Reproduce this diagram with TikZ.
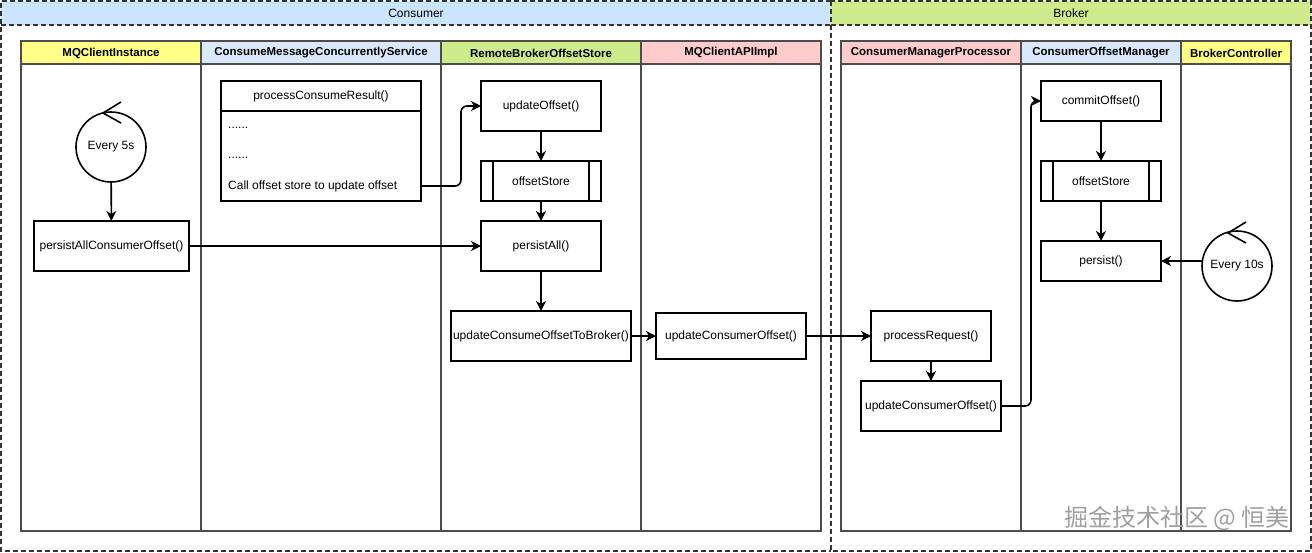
\documentclass[tikz,border=0pt]{standalone}
\usepackage{fontspec}
\setmainfont{Liberation Sans}
\newfontfamily\cjk{Noto Sans CJK SC}
\usetikzlibrary{arrows.meta,calc}
\definecolor{hdrblue}{HTML}{DAE8FC}
\definecolor{bandblue}{HTML}{CCE5FF}
\definecolor{hdrgreen}{HTML}{CDEB8B}
\definecolor{hdryellow}{HTML}{FFFF88}
\definecolor{hdrpink}{HTML}{FFCCCC}
\definecolor{lanegray}{HTML}{4D4D4D}
\definecolor{dashgray}{HTML}{333333}
\tikzset{
  container/.style={draw=dashgray, line width=1.3pt, dash pattern=on 5pt off 3pt},
  lane/.style={draw=lanegray, line width=1.8pt},
  box/.style={draw=black, line width=1.6pt, fill=white, inner sep=0pt, outer sep=0pt, font=\fontsize{12}{14}\selectfont, align=center},
  cyc/.style={draw=black, line width=1.6pt, circle, inner sep=0pt, outer sep=0pt, minimum size=70pt, font=\fontsize{12}{14}\selectfont},
  lbl/.style={font=\fontsize{12}{14}\selectfont, inner sep=0pt},
  hdr/.style={font=\bfseries\fontsize{11.5}{14}\selectfont, inner sep=0pt},
  flow/.style={draw=black, line width=1.6pt, -{Stealth[length=10pt,width=10pt,inset=3pt]}},
  chev/.style={draw=black, line width=1.6pt}
}
\begin{document}
\begin{tikzpicture}[x=1pt,y=-1pt]
\useasboundingbox (0,0) rectangle (1312,552);
% containers
\fill[bandblue] (1,1) rectangle (831,25);
\fill[hdrgreen] (831,1) rectangle (1311,25);
\draw[container] (831,1) -- (1,1) -- (1,551) -- (831,551);
\draw[container] (1,25) -- (831,25);
\draw[container] (831,1) rectangle (1311,551);
\draw[container] (831,25) -- (1311,25);
\node[lbl] (consumer) at (416,13) {Consumer};
\node[lbl] (broker) at (1071,13) {Broker};
% consumer lanes
\filldraw[lane, fill=hdryellow] (21,41) rectangle (201,64);
\filldraw[lane, fill=hdrblue] (201,41) rectangle (441,64);
\filldraw[lane, fill=hdrgreen] (441,41) rectangle (641,64);
\filldraw[lane, fill=hdrpink] (641,41) rectangle (821,64);
\draw[lane] (21,64) rectangle (201,531);
\draw[lane] (201,64) rectangle (441,531);
\draw[lane] (441,64) rectangle (641,531);
\draw[lane] (641,64) rectangle (821,531);
\node[hdr] (h1) at (111,53) {MQClientInstance};
\node[hdr] (h2) at (321,53) {ConsumeMessageConcurrentlyService};
\node[hdr] (h3) at (541,53) {RemoteBrokerOffsetStore};
\node[hdr] (h4) at (731,53) {MQClientAPIImpl};
% broker lanes
\filldraw[lane, fill=hdrpink] (841,41) rectangle (1021,64);
\filldraw[lane, fill=hdrblue] (1021,41) rectangle (1181,64);
\filldraw[lane, fill=hdryellow] (1181,41) rectangle (1291,64);
\draw[lane] (841,64) rectangle (1021,531);
\draw[lane] (1021,64) rectangle (1181,531);
\draw[lane] (1181,64) rectangle (1291,531);
\node[hdr] (h5) at (931,53) {ConsumerManagerProcessor};
\node[hdr] (h6) at (1101,53) {ConsumerOffsetManager};
\node[hdr] (h7) at (1236,53) {BrokerController};
% consumer nodes
\node[cyc] (e5) at (111,147) {Every 5s};
\draw[chev] (121,102) -- (103,113) -- (121,123);
\node[box, minimum width=155pt, minimum height=50pt] (pac) at (111.5,246) {persistAllConsumerOffset()};
\node[box, minimum width=200pt, minimum height=120pt] (pcr) at (321,141) {};
\draw[line width=1.6pt] (pcr.west |- 0,111) -- (pcr.east |- 0,111);
\node[lbl] (pcrt) at (321,96) {processConsumeResult()};
\node[lbl, anchor=west] (d1) at (228,128) {......};
\node[lbl, anchor=west] (d2) at (228,158) {......};
\node[lbl, anchor=west] (call) at (228,186) {Call offset store to update offset};
\node[box, minimum width=120pt, minimum height=50pt] (uo) at (541,106) {updateOffset()};
\node[box, minimum width=120pt, minimum height=40pt] (os1) at (541,181) {offsetStore};
\draw[line width=1.6pt] (493,161) -- (493,201) (589,161) -- (589,201);
\node[box, minimum width=120pt, minimum height=50pt] (pa) at (541,246) {persistAll()};
\node[box, minimum width=180pt, minimum height=50pt] (uctb) at (541,336) {updateConsumeOffsetToBroker()};
\node[box, minimum width=150pt, minimum height=46pt, line width=2.2pt] (uco1) at (731,336) {updateConsumerOffset()};
% broker nodes
\node[box, minimum width=120pt, minimum height=50pt] (pr) at (931,336) {processRequest()};
\node[box, minimum width=140pt, minimum height=50pt] (uco2) at (931,406) {updateConsumerOffset()};
\node[box, minimum width=120pt, minimum height=40pt] (co) at (1101,101) {commitOffset()};
\node[box, minimum width=120pt, minimum height=40pt] (os2) at (1101,181) {offsetStore};
\draw[line width=1.6pt] (1053,161) -- (1053,201) (1149,161) -- (1149,201);
\node[box, minimum width=120pt, minimum height=40pt] (ps) at (1101,261) {persist()};
\node[cyc] (e10) at (1237,266) {Every 10s};
\draw[chev] (1246,222) -- (1228,233) -- (1246,243);
% connectors
\draw[flow] (e5) -- (pac);
\draw[flow, rounded corners=6pt] (pcr.east |- call) -- (461,186) -- (461,106) -- (uo.west);
\draw[flow] (pac) -- (pa);
\draw[flow] (uo) -- (os1);
\draw[flow] (os1) -- (pa);
\draw[flow] (pa) -- (uctb);
\draw[flow] (uctb) -- (uco1);
\draw[flow] (uco1) -- (pr);
\draw[flow] (pr) -- (uco2);
\draw[flow, rounded corners=6pt] (uco2.east) -- (1031,406) -- (1031,101) -- (co.west);
\draw[flow] (co) -- (os2);
\draw[flow] (os2) -- (ps);
\draw[flow] (e10.west |- ps.east) -- (ps.east);
% watermark
\node[font=\cjk\fontsize{24}{26}\selectfont, text=gray!75, inner sep=0pt] (wm) at (1177,518) {掘金技术社区 @ 恒美};
\end{tikzpicture}
\end{document}
